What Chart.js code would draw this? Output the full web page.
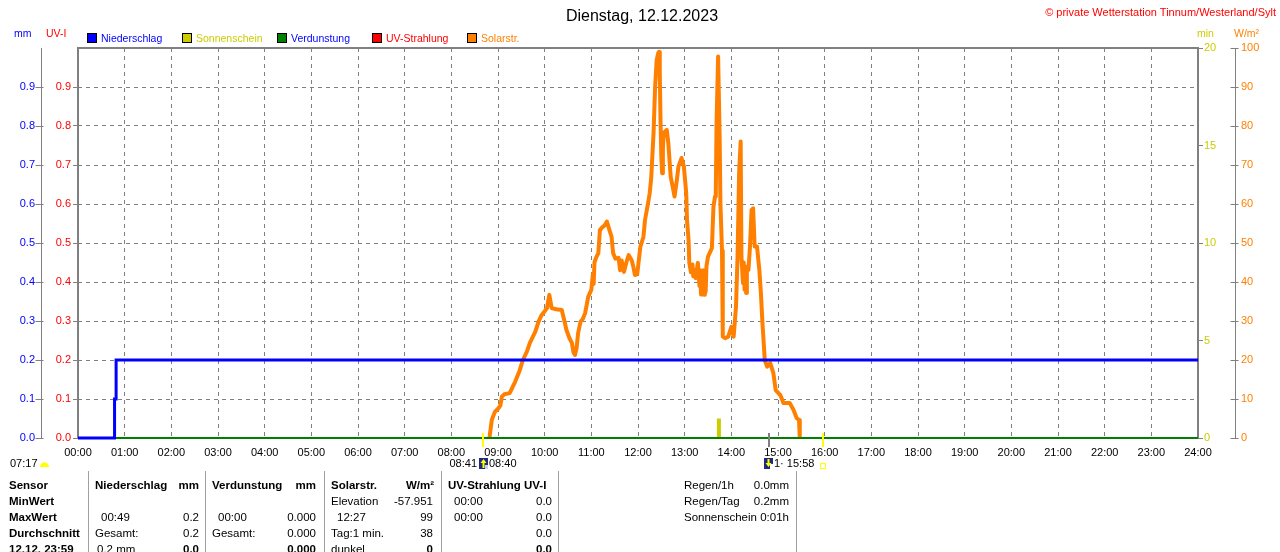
<!DOCTYPE html>
<html><head><meta charset="utf-8">
<script src="https://cdn.jsdelivr.net/npm/chart.js@4.4.1/dist/chart.umd.min.js"></script>
<style>
html,body{margin:0;padding:0;background:#fff;}
#wrap{position:relative;width:1280px;height:552px;overflow:hidden;background:#fff;font-family:'Liberation Sans',Arial,sans-serif;}
#wrap canvas{position:absolute;left:0;top:0;}
.t{position:absolute;white-space:nowrap;}
.sep{position:absolute;width:1px;background:#a0a0a0;top:471px;height:81px;}
.lb{position:absolute;width:8px;height:8px;border:1px solid #000;}
.ic{position:absolute;line-height:0;font-size:0;}
.ic svg{display:block;}
</style></head><body>
<div id="wrap"><canvas id="c" width="1280" height="552"></canvas></div>
<script>
// ---------- data ----------
const hourLabels = ['00:00','01:00','02:00','03:00','04:00','05:00','06:00','07:00','08:00','09:00','10:00','11:00','12:00',
  '13:00','14:00','15:00','16:00','17:00','18:00','19:00','20:00','21:00','22:00','23:00','24:00'];

const rainTimes  = ['00:00','00:47','00:47','00:49','00:49','24:00'];
const rainValues = [0, 0, 0.1, 0.1, 0.2, 0.2];

const evapTimes  = ['00:00','24:00'];
const evapValues = [0, 0];

const uvTimes  = ['00:00','24:00'];
const uvValues = [0, 0];

const sunTimes  = ['13:44','13:44'];
const sunValues = [0, 1];

const solarTimes = ['08:49','08:52','08:56','09:00','09:03','09:05','09:08','09:15','09:22','09:28','09:32','09:37','09:41','09:48','09:52','09:56',
  '10:00','10:03','10:06','10:09','10:15','10:22','10:26','10:28','10:32','10:35','10:37','10:39','10:41','10:43','10:46','10:49','10:52','10:56',
  '11:00','11:02','11:03','11:04','11:06','11:09','11:11','11:14','11:17','11:20','11:23','11:26','11:28','11:31','11:35','11:37','11:39','11:42','11:45','11:48','11:52','11:54','11:56','11:59',
  '12:03','12:07','12:09','12:13','12:15','12:17','12:20','12:22','12:24','12:26','12:27','12:28','12:29','12:30','12:31','12:32','12:33','12:37','12:39','12:42','12:45','12:47','12:50','12:52','12:56','12:59',
  '13:02','13:03','13:05','13:06','13:08','13:10','13:11','13:13','13:14','13:17','13:19','13:20','13:21','13:22','13:23','13:24','13:25','13:26','13:27','13:28','13:30','13:35','13:37','13:39','13:40','13:41','13:43','13:45','13:46','13:48','13:49','13:52','13:56',
  '14:00','14:03','14:06','14:08','14:10','14:12','14:13','14:15','14:16','14:17','14:18','14:19','14:20','14:22','14:24','14:26','14:28','14:30','14:33','14:36','14:38','14:40','14:43','14:46','14:50','14:54','14:57',
  '15:03','15:07','15:15','15:20','15:24','15:27','15:28'];
const solarValues = [0,4.6,6.7,7.5,8.3,10.6,11.2,11.5,14.4,17.4,20,22.1,24.4,27.3,29.8,31.5,
  32.5,33.3,36.7,33.3,33,32.8,29.5,27.7,25.5,24.4,22,21.3,23,26.9,29.8,30.5,32,36.2,
  38,42,39.5,45,46.2,47.4,53.3,54,54.5,55.5,53.5,51.6,47.4,46,46.2,43,45.5,42.6,45,46.9,45.5,43.9,41.8,42,
  49,51.6,55.9,60.3,62.7,66.7,78.2,90,96.9,98.7,99,93.6,80.8,72.1,67.9,74,78.2,79,75.6,67,64,61.9,66.2,69.6,71.8,69.6,
  62.8,55.9,50.8,44.9,42.5,44.5,41.5,43.1,41,44.9,39,43,36.8,42.5,37,43,36.7,42.3,37.5,44,46.5,48.7,59.3,61.9,62.5,80.8,97.8,77,60,48,26,25.6,26,
  28.5,26,33.7,46.5,68,76,46.5,39.7,45,38,43.1,37.2,44,43.1,49.1,58.5,58.9,49.1,49.1,43.1,37.2,29.5,20,18.3,19.2,16.7,12.3,
  11,9,9,7.2,5.1,4.6,0];

const markerTimes  = ['08:41','14:48','15:58'];
const markerColors = ['#ffff00','#808080','#ffff00'];

const legendLabels = ['Niederschlag','Sonnenschein','Verdunstung','UV-Strahlung','Solarstr.'];
const legendBoxes  = ['#0000ff','#cccc00','#008000','#ff0000','#ff8000'];
const legendText   = ['#0000ff','#cccc00','#0000ff','#ff0000','#ff8000'];

// ---------- helpers ----------
const toMin = s => { const p = s.split(':').map(Number); return p[0]*60 + p[1]; };
const pts = (t, v) => t.map((s, i) => ({ x: toMin(s), y: v[i] }));
const wrap = document.getElementById('wrap');
function txt(str, x, y, o) {
  o = o || {};
  const size = o.size || 11, lh = Math.round(size * 1.3);
  const d = document.createElement('div');
  d.className = 't'; d.textContent = str;
  d.style.fontSize = size + 'px'; d.style.lineHeight = lh + 'px';
  d.style.color = o.color || '#000';
  if (o.bold) d.style.fontWeight = 'bold';
  d.style.top = (y - lh / 2) + 'px';
  if (o.align === 'r') d.style.right = (1280 - x) + 'px';
  else if (o.align === 'c') { d.style.left = (x - 300) + 'px'; d.style.width = '600px'; d.style.textAlign = 'center'; }
  else d.style.left = x + 'px';
  wrap.appendChild(d);
}
function box(cls, x, y, w, h, css) {
  const d = document.createElement('div'); d.className = cls;
  d.style.left = x + 'px'; d.style.top = y + 'px';
  if (w != null) d.style.width = w + 'px';
  if (h != null) d.style.height = h + 'px';
  if (css) Object.assign(d.style, css);
  wrap.appendChild(d); return d;
}

// ---------- header texts ----------
txt('Dienstag, 12.12.2023', 642, 15, { size: 16, align: 'c' });
txt('© private Wetterstation Tinnum/Westerland/Sylt', 1276, 12, { size: 11, color: '#ff0000', align: 'r' });
txt('mm', 14, 33, { size: 10.5, color: '#0000ff' });
txt('UV-I', 46, 33, { size: 10.5, color: '#ff0000' });
txt('min', 1197, 33, { size: 10.5, color: '#cccc00' });
txt('W/m²', 1234, 33, { size: 10.5, color: '#ff8000' });
const legX = [87, 182, 277, 372, 467];
legendLabels.forEach((l, i) => {
  box('lb', legX[i], 33, null, null, { background: legendBoxes[i] });
  txt(l, legX[i] + 14, 38, { size: 10.5, color: legendText[i] });
});

// ---------- under-axis markers ----------
txt('07:17', 10, 463);
box('ic', 40, 461, 9, 6).innerHTML = '<svg width="9" height="6"><path d="M0 6 A4.5 4.5 0 0 1 9 6 Z" fill="#ffff00"/></svg>';
txt('08:41', 477, 463, { align: 'r' });
box('ic', 479, 458, 9, 11).innerHTML = '<svg width="9" height="11"><rect width="9" height="11" fill="#1c2a80"/><rect x="6" y="7" width="3" height="4" fill="#c8d0f0"/><path d="M4.5 1 L7.5 5 H5.5 V10 H3.5 V5 H1.5 Z" fill="#ffff00"/></svg>';
txt('08:40', 489, 463);
box('ic', 764, 458, 9, 11).innerHTML = '<svg width="9" height="11"><rect width="9" height="11" fill="#1c2a80"/><rect x="6" y="6" width="3" height="5" fill="#ffffff"/><path d="M4.5 9 L7.5 5 H5.5 V1 H3.5 V5 H1.5 Z" fill="#ffff00"/></svg>';
txt('1· 15:58', 774, 463);
box('ic', 820, 463, 4, 4, { border: '1px solid #ffff00' });

// ---------- table ----------
[88, 205, 324, 441, 558, 796].forEach(x => box('sep', x, 471));
const R = [485, 501, 517, 533, 549];
const TS = 11.5;
['Sensor','MinWert','MaxWert','Durchschnitt','12.12. 23:59'].forEach((s, i) => txt(s, 9, R[i], { size: TS, bold: true }));
txt('Niederschlag', 95, R[0], { size: TS, bold: true }); txt('mm', 199, R[0], { size: TS, bold: true, align: 'r' });
txt('00:49', 101, R[2], { size: TS }); txt('0.2', 199, R[2], { size: TS, align: 'r' });
txt('Gesamt:', 95, R[3], { size: TS }); txt('0.2', 199, R[3], { size: TS, align: 'r' });
txt('0.2 mm', 97, R[4], { size: TS }); txt('0.0', 199, R[4], { size: TS, bold: true, align: 'r' });
txt('Verdunstung', 212, R[0], { size: TS, bold: true }); txt('mm', 316, R[0], { size: TS, bold: true, align: 'r' });
txt('00:00', 218, R[2], { size: TS }); txt('0.000', 316, R[2], { size: TS, align: 'r' });
txt('Gesamt:', 212, R[3], { size: TS }); txt('0.000', 316, R[3], { size: TS, align: 'r' });
txt('0.000', 316, R[4], { size: TS, bold: true, align: 'r' });
txt('Solarstr.', 331, R[0], { size: TS, bold: true }); txt('W/m²', 434, R[0], { size: TS, bold: true, align: 'r' });
txt('Elevation', 331, R[1], { size: TS }); txt('-57.951', 433, R[1], { size: TS, align: 'r' });
txt('12:27', 337, R[2], { size: TS }); txt('99', 433, R[2], { size: TS, align: 'r' });
txt('Tag:1 min.', 331, R[3], { size: TS }); txt('38', 433, R[3], { size: TS, align: 'r' });
txt('dunkel', 331, R[4], { size: TS }); txt('0', 433, R[4], { size: TS, bold: true, align: 'r' });
txt('UV-Strahlung UV-I', 448, R[0], { size: TS, bold: true });
txt('00:00', 454, R[1], { size: TS }); txt('0.0', 552, R[1], { size: TS, align: 'r' });
txt('00:00', 454, R[2], { size: TS }); txt('0.0', 552, R[2], { size: TS, align: 'r' });
txt('0.0', 552, R[3], { size: TS, align: 'r' });
txt('0.0', 552, R[4], { size: TS, bold: true, align: 'r' });
txt('Regen/1h', 684, R[0], { size: TS }); txt('0.0mm', 789, R[0], { size: TS, align: 'r' });
txt('Regen/Tag', 684, R[1], { size: TS }); txt('0.2mm', 789, R[1], { size: TS, align: 'r' });
txt('Sonnenschein', 684, R[2], { size: TS }); txt('0:01h', 789, R[2], { size: TS, align: 'r' });

// ---------- chart ----------
const FONT = { family: "'Liberation Sans', Arial, sans-serif", size: 11 };
const GREY = '#808080';

const framePlugin = {
  id: 'frame',
  beforeDatasetsDraw(chart) {
    const { ctx, chartArea: a } = chart;
    ctx.save(); ctx.strokeStyle = GREY; ctx.lineWidth = 2;
    ctx.strokeRect(a.left, a.top, a.right - a.left, a.bottom - a.top);
    ctx.restore();
  },
  afterDatasetsDraw(chart) {
    const { ctx, chartArea: a } = chart;
    const xs = chart.scales.x;
    ctx.save(); ctx.lineWidth = 2;
    markerTimes.forEach((t, i) => {
      const x = Math.round(xs.getPixelForValue(toMin(t)));
      ctx.strokeStyle = markerColors[i];
      ctx.beginPath(); ctx.moveTo(x, a.bottom - 5); ctx.lineTo(x, a.bottom + 9); ctx.stroke();
    });
    ctx.restore();
  },
  afterDraw(chart) {
    const ctx = chart.ctx;
    ctx.save(); ctx.strokeStyle = GREY; ctx.lineWidth = 1;
    [['mm', 5, 2], ['wm2', 4, 3]].forEach(([id, l, r]) => {
      const s = chart.scales[id];
      const bx = Math.round(s.position === 'left' ? s.right : s.left) - 0.5;
      s.ticks.forEach(t => {
        const y = Math.round(s.getPixelForValue(t.value)) + 0.5;
        ctx.beginPath(); ctx.moveTo(bx - l, y); ctx.lineTo(bx + r + 1, y); ctx.stroke();
      });
    });
    ctx.restore();
  }
};

const dropTop = s => { s.ticks = s.ticks.filter(t => t.value < 0.99); };

new Chart(document.getElementById('c'), {
  type: 'line',
  data: {
    datasets: [
      { label: 'Niederschlag', data: pts(rainTimes, rainValues), yAxisID: 'mm', borderColor: '#0000ff', borderWidth: 3, order: 0, clip: false },
      { label: 'Verdunstung', data: pts(evapTimes, evapValues), yAxisID: 'mm', borderColor: '#008000', borderWidth: 2, order: 1, clip: false },
      { label: 'UV-Strahlung', data: pts(uvTimes, uvValues), yAxisID: 'uv', borderColor: '#ff0000', borderWidth: 2, order: 2, clip: false },
      { label: 'Sonnenschein', data: pts(sunTimes, sunValues), yAxisID: 'min', borderColor: '#cccc00', borderWidth: 4, borderCapStyle: 'butt', order: 3 },
      { label: 'Solarstr.', data: pts(solarTimes, solarValues), yAxisID: 'wm2', borderColor: '#ff8000', borderWidth: 4, borderJoinStyle: 'round', order: 4 }
    ]
  },
  options: {
    responsive: false, animation: false, devicePixelRatio: 1,
    layout: { padding: { top: 48, bottom: 90, left: 0, right: 0 } },
    plugins: { legend: { display: false }, tooltip: { enabled: false }, title: { display: false } },
    elements: { point: { radius: 0 }, line: { tension: 0, fill: false } },
    scales: {
      x: {
        type: 'linear', position: 'bottom', min: 0, max: 1440,
        ticks: { stepSize: 60, autoSkip: false, maxRotation: 0, color: '#000', font: FONT, padding: 8,
                 callback: v => hourLabels[Math.round(v / 60)] },
        grid: { color: GREY, lineWidth: 1, drawTicks: false },
        border: { display: false, dash: [4, 4] },
        afterFit: s => { s.height = 24; }
      },
      mm: {
        axis: 'y', type: 'linear', position: 'left', weight: 1, min: 0, max: 1,
        ticks: { stepSize: 0.1, color: '#0000ff', font: FONT, padding: 6, callback: v => Number(v).toFixed(1) },
        grid: { drawOnChartArea: false, drawTicks: false },
        border: { display: true, color: GREY, width: 1 },
        afterBuildTicks: dropTop,
        afterFit: s => { s.width = 41; }
      },
      uv: {
        axis: 'y', type: 'linear', position: 'left', weight: 0, min: 0, max: 1,
        ticks: { stepSize: 0.1, color: '#ff0000', font: FONT, padding: 2, callback: v => Number(v).toFixed(1) },
        grid: { color: GREY, lineWidth: 1, drawTicks: true, tickLength: 5, tickColor: GREY, tickBorderDash: [] },
        border: { display: false, dash: [4, 4] },
        afterBuildTicks: dropTop,
        afterFit: s => { s.width = 37; }
      },
      min: {
        axis: 'y', type: 'linear', position: 'right', weight: 0, min: 0, max: 20,
        ticks: { stepSize: 5, color: '#cccc00', font: FONT, padding: 1 },
        grid: { drawOnChartArea: false, drawTicks: true, tickLength: 5, color: GREY },
        border: { display: false },
        afterFit: s => { s.width = 37; }
      },
      wm2: {
        axis: 'y', type: 'linear', position: 'right', weight: 1, min: 0, max: 100,
        ticks: { stepSize: 10, color: '#ff8000', font: FONT, padding: 6 },
        grid: { drawOnChartArea: false, drawTicks: false },
        border: { display: true, color: GREY, width: 1 },
        afterFit: s => { s.width = 45; }
      }
    }
  },
  plugins: [framePlugin]
});
</script>
</body></html>
